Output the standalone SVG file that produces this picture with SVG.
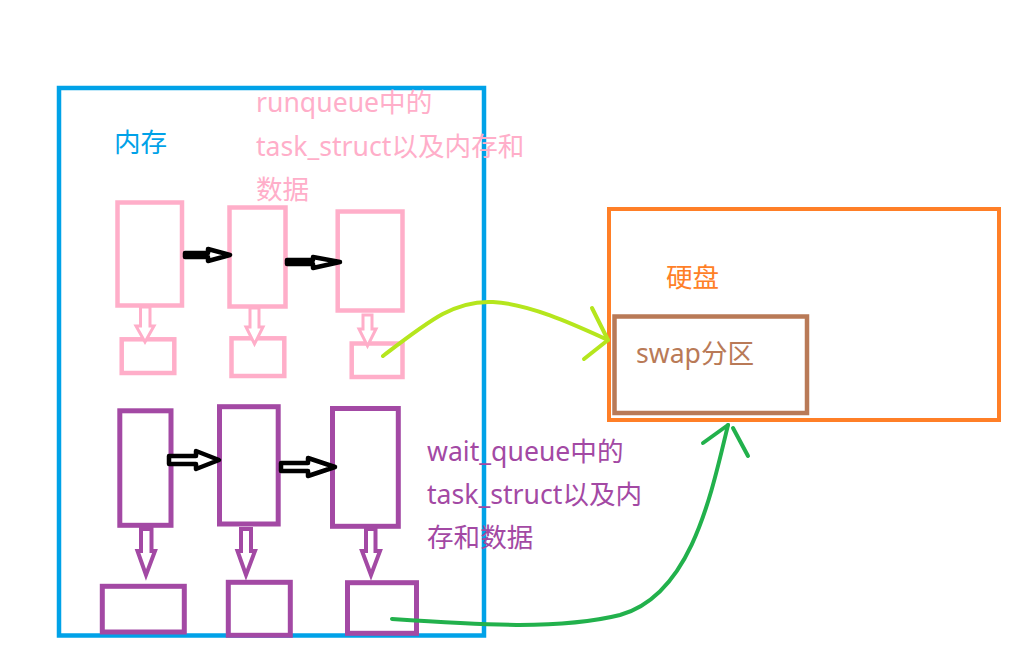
<svg xmlns="http://www.w3.org/2000/svg" width="1029" height="670" viewBox="0 0 1029 670">
<style>
text{font-family:"Noto Sans","Noto Sans CJK SC",sans-serif;font-size:26.6px}
.pk{fill:none;stroke:#ffaec9;stroke-width:4.5}
.pu{fill:none;stroke:#a349a4;stroke-width:5}
.pkA{fill:#fff;stroke:#ffaec9;stroke-width:3}
.puA{fill:#fff;stroke:#a349a4;stroke-width:4}
.bk{fill:#fff;stroke:#000;stroke-width:4.5;stroke-linejoin:round}
.lime{fill:none;stroke:#b5e61d;stroke-width:4;stroke-linecap:round;stroke-linejoin:round}
.grn{fill:none;stroke:#22b14c;stroke-width:4;stroke-linecap:round;stroke-linejoin:round}
</style>
<rect width="1029" height="670" fill="#fff"/>
<g id="memory">
<rect x="59" y="88" width="425" height="547.5" fill="none" stroke="#00a2e8" stroke-width="4.5"/>
<text x="114" y="152" fill="#00a2e8">内存</text>
</g>
<g id="runqueue-label">
<text x="256" y="112" fill="#ffaec9">runqueue中的</text>
<text x="256" y="156" fill="#ffaec9">task_struct以及内存和</text>
<text x="256" y="199" fill="#ffaec9">数据</text>
</g>
<g id="rq1"><rect class="pk" x="117.5" y="202.5" width="64.5" height="103"/></g>
<g id="rq2"><rect class="pk" x="229.5" y="207.5" width="56" height="99"/></g>
<g id="rq3"><rect class="pk" x="337.7" y="211.5" width="64.8" height="99"/></g>
<g id="rqm1"><rect class="pk" x="121.7" y="339.3" width="52.6" height="33.7"/></g>
<g id="rqm2"><rect class="pk" x="231.5" y="338.3" width="52.8" height="37.7"/></g>
<g id="rqm3"><rect class="pk" x="351.7" y="343.5" width="50.8" height="33.5"/></g>
<g id="wq1"><rect class="pu" x="119.8" y="410.8" width="51.2" height="114.5"/></g>
<g id="wq2"><rect class="pu" x="219.5" y="406.7" width="58.7" height="117.3"/></g>
<g id="wq3"><rect class="pu" x="332.5" y="408.5" width="65.8" height="117.8"/></g>
<g id="wqm1"><rect class="pu" x="102.3" y="586.3" width="82" height="45.7"/></g>
<g id="wqm2"><rect class="pu" x="228.3" y="582.3" width="62" height="53"/></g>
<g id="wqm3"><rect class="pu" x="347.5" y="582.7" width="69" height="50.6"/></g>
<g id="waitqueue-label">
<text x="427" y="461" fill="#a349a4">wait_queue中的</text>
<text x="427" y="504" fill="#a349a4">task_struct以及内</text>
<text x="427" y="547" fill="#a349a4">存和数据</text>
</g>
<g id="disk">
<rect x="609" y="209" width="390" height="211" fill="none" stroke="#ff7f27" stroke-width="4"/>
<text x="666" y="287" fill="#ff7f27">硬盘</text>
</g>
<g id="swap">
<rect x="614.5" y="316.5" width="192.5" height="96.5" fill="none" stroke="#b97a57" stroke-width="4.5"/>
<text x="636" y="363" fill="#b97a57">swap分区</text>
</g>
<g id="connectors">
<path class="pkA" d="M140.5,307 L150,307 L150,326 L154,326 L145,342 L136,326 L140.5,326 Z"/>
<path class="pkA" d="M250,308 L259,308 L259,327 L263,327 L254.5,344 L246,327 L250,327 Z"/>
<path class="pkA" d="M363,315 L372,315 L372,329 L376,329 L367.5,346 L359,329 L363,329 Z"/>
<path class="bk" d="M185,253 L208,253 L208,249 L230,255 L208,261 L208,257 L185,257 Z"/>
<path class="bk" d="M287,260 L313,260 L313,257 L340,262 L313,268 L313,264 L287,264 Z"/>
<path class="puA" d="M141,529 L151.5,529 L151.5,551 L155,551 L146,575 L137.5,551 L141,551 Z"/>
<path class="puA" d="M241,529 L251,529 L251,551 L255,551 L246,575 L237.5,551 L241,551 Z"/>
<path class="puA" d="M366,529 L375.5,529 L375.5,551 L380,551 L371,575 L362,551 L366,551 Z"/>
<path class="bk" d="M169,456 L196,456 L196,451 L219,460 L196,469 L196,464 L169,464 Z"/>
<path class="bk" d="M281,463 L308,463 L308,458 L335,467 L308,476 L308,471 L281,471 Z"/>
<path class="lime" d="M383,356 C430,320 455,300 493,302 C530,304 575,325 608,340"/>
<path class="lime" d="M592,308 L608,340 L584,359"/>
<path class="grn" d="M392,619 C480,625 560,630 620,615 C690,595 710,500 728,425"/>
<path class="grn" d="M703,443 L728,425 M733,428 L748,456"/>
</g>
</svg>
